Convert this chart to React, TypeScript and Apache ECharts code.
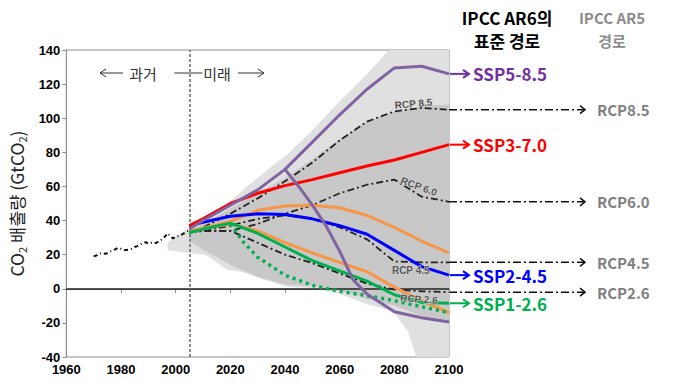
import React, { useEffect, useRef } from 'react';
import * as echarts from 'echarts';

// ---- data ----
const histYears = [1970,1971,1972,1973,1974,1975,1976,1977,1978,1979,1980,1981,1982,1983,1984,1985,1986,1987,1988,1989,1990,1991,1992,1993,1994,1995,1996,1997,1998,1999,2000,2001,2002,2003,2004,2005];
const histValues = [19,19.5,20.5,21,20.5,20.8,21.8,22.5,23.2,24,23.5,22.8,22.7,23,23.5,24.5,25,25.8,26.8,27.3,26.5,27,26.5,27,28,29,30.5,32.5,31,29.5,30.5,31,31.5,32.5,33.5,34.5];

const scenYears = [2005,2010,2020,2030,2040,2050,2060,2070,2080,2090,2100];
const ssp585 = [35,40,49,58,70,86,102,117,129.5,130.5,126];
const ssp370 = [37,41,50,56,60.5,64,68,72,75.5,80,84.5];
const ssp245 = [37,39,42.5,44,43.5,41,37,32,22.5,13,8];
const sspOrangeHigh = [34,35.5,39.5,46,48.5,49,47.5,43,36,28,21];
const sspOrangeLow = [33,35,38,34,27,21,15.5,10,1,-7,-14];
const ssp126 = [33,35,38.5,32.5,24.5,16.5,10.5,4.5,-3.5,-8,-8.5];

const ssp119Years = [2020,2025,2030,2040,2050,2060,2070,2080,2090,2100];
const ssp119 = [38,27,18.5,8,2,-1.5,-4,-7,-10.5,-14];

const osYears = [2040,2045,2050,2055,2060,2065,2070,2080,2090,2100];
const ssp534os = [70,60,49,37,22,5,-3,-13.5,-17,-19.5];

const rcp85 = [33,36,44,53,63,74,87,98,104,106,105];
const rcp60 = [33,34,34,38,44,49,56,61,64,54,51];
const rcp45 = [33,34,37,41,43,41,36,29,16,15.5,15.5];
const rcp26 = [33,34,34,27,20,15,9,3,-0.5,-1.5,-2];

const fanYears = [1997,2005,2011,2019,2024,2033,2041,2050,2060,2070,2078,2080,2085,2088,2090,2100];
const fanUpper = [27,36,41,50,57,69,79,93,110,126,140,140,140,140,140,140];
const fanLower = [22.6,21,20,11,10,5,1,0.5,-3,-9,-12.5,-14,-25,-40,-40,-40];

const coreYears = [2005,2010,2020,2030,2040,2050,2060,2070,2080,2090,2100];
const coreUpper = [34,38,47,56,65,76,88,98,104,107,108];
const coreLower = [28,23,14,7,2.5,1.5,-1,-6,-10,-16,-20];

const sspLabels = ['SSP5-8.5','SSP3-7.0','SSP2-4.5','SSP1-2.6'];
const sspLabelValues = [126,84.5,8,-8.5];
const sspLabelColors = ['#7030a0','#ff0000','#0000ff','#00b050'];

const rcpLabels = ['RCP8.5','RCP6.0','RCP4.5','RCP2.6'];
const rcpLabelValues = [105,51,15.5,-2];

const inPlotRcpLabels = ['RCP 8.5','RCP 6.0','RCP 4.5','RCP 2.6'];
const inPlotRcpPos = [[2087,108.5],[2089,60],[2086,11],[2089,-6]];
const inPlotRcpRot = [5,-20,0,-4];

const pair = (xs: number[], ys: number[]) => xs.map((x, i) => [x, ys[i]]);

const band = (xs: number[], lo: number[], hi: number[], color: string, z: number) => ({
  type: 'custom',
  coordinateSystem: 'cartesian2d',
  silent: true,
  z,
  data: [[xs[0], lo[0]]],
  renderItem: (_p: any, api: any) => {
    const pts: number[][] = [];
    xs.forEach((x, i) => pts.push(api.coord([x, hi[i]])));
    for (let i = xs.length - 1; i >= 0; i--) pts.push(api.coord([xs[i], lo[i]]));
    return { type: 'polygon', shape: { points: pts }, style: { fill: color } };
  },
});

const KR = '"Noto Sans CJK KR", sans-serif';

export default function App() {
  const ref = useRef<HTMLDivElement>(null);
  useEffect(() => {
    if (!ref.current) return;
    const chart = echarts.init(ref.current, null, { renderer: 'svg' });
    const solid = (name: string, xs: number[], ys: number[], color: string, z = 5, width = 3) => ({
      type: 'line', name, data: pair(xs, ys), showSymbol: false, symbol: 'none', z,
      lineStyle: { color, width, join: 'round' },
    });
    const dashdot = (name: string, ys: number[]) => ({
      type: 'line', name, data: pair(scenYears, ys), symbol: 'none', z: 4,
      lineStyle: { color: '#222', width: 1.8, type: [7, 3, 2, 3] },
    });
    chart.setOption({
      animation: false,
      backgroundColor: '#fff',
      grid: { left: 56, right: 231, top: 50, bottom: 32, show: true, borderColor: '#8c8c8c', borderWidth: 1 },
      xAxis: {
        type: 'value', min: 1960, max: 2100, interval: 20,
        axisLine: { show: true, lineStyle: { color: '#8c8c8c' } },
        axisTick: { show: true, length: 4, lineStyle: { color: '#8c8c8c' } },
        splitLine: { show: false },
        axisLabel: { color: '#000', fontFamily: '"Liberation Sans", Arial', fontWeight: 'bold', fontSize: 13, lineHeight: 12, margin: 6, formatter: (v: number) => String(v) },
      },
      yAxis: {
        type: 'value', min: -40, max: 140, interval: 20,
        axisLine: { show: true, lineStyle: { color: '#8c8c8c' } },
        axisTick: { show: true, length: 4, lineStyle: { color: '#8c8c8c' } },
        splitLine: { show: false },
        axisLabel: { color: '#000', fontFamily: '"Liberation Sans", Arial', fontWeight: 'bold', fontSize: 13, lineHeight: 12, margin: 6 },
        name: '{a|CO}{b|2}{a| 배출량 (GtCO}{b|2}{a|)}',
        nameLocation: 'middle', nameRotate: 90, nameGap: 30,
        nameTextStyle: {
          rich: {
            a: { fontFamily: KR, fontSize: 17.5, color: '#222', lineHeight: 22 },
            b: { fontFamily: KR, fontSize: 11, color: '#222', lineHeight: 22, verticalAlign: 'bottom' },
          },
        },
      },
      series: [
        band(fanYears, fanLower, fanUpper, '#e0e0e0', 1),
        band(coreYears, coreLower, coreUpper, '#c8c8c8', 2),
        {
          type: 'line', name: 'hist', data: pair(histYears, histValues), symbol: 'none', z: 4,
          lineStyle: { color: '#111', width: 2, type: [4, 3, 1, 3] },
          markLine: {
            silent: true, symbol: 'none', label: { show: false },
            data: [
              { yAxis: 0, lineStyle: { color: '#222', width: 1.5, type: 'solid' } },
              { xAxis: 2005, lineStyle: { color: '#666', width: 1.5, type: [3, 2] } },
            ],
          },
        },
        dashdot('RCP8.5', rcp85),
        dashdot('RCP6.0', rcp60),
        dashdot('RCP4.5', rcp45),
        dashdot('RCP2.6', rcp26),
        solid('SSP4-6.0', scenYears, sspOrangeHigh, '#f79646'),
        solid('SSP4-3.4', scenYears, sspOrangeLow, '#f79646'),
        {
          type: 'line', name: 'SSP1-1.9', data: pair(ssp119Years, ssp119), symbol: 'none', z: 5,
          lineStyle: { color: '#00b050', width: 3.5, type: [3, 4] },
        },
        solid('SSP1-2.6', scenYears, ssp126, '#00b050', 6),
        solid('SSP2-4.5', scenYears, ssp245, '#0000ff', 6),
        solid('SSP3-7.0', scenYears, ssp370, '#ff0000', 6),
        solid('SSP5-3.4-OS', osYears, ssp534os, '#8064a2', 7),
        solid('SSP5-8.5', scenYears, ssp585, '#8064a2', 7),
      ],
    });

    const px = (x: number, y: number) => chart.convertToPixel({ gridIndex: 0 }, [x, y]) as number[];
    const right = px(2100, 0)[0];
    const top = px(1960, 140)[1];
    const g: any[] = [];
    sspLabels.forEach((lab, i) => {
      const y = px(2100, sspLabelValues[i])[1];
      const c = sspLabelColors[i];
      g.push({ type: 'line', shape: { x1: right + 1, y1: y, x2: right + 20, y2: y }, style: { stroke: c, lineWidth: 2 } });
      g.push({ type: 'polyline', shape: { points: [[right + 14, y - 4], [right + 20, y], [right + 14, y + 4]] }, style: { stroke: c, lineWidth: 2, fill: 'none' } });
      g.push({ type: 'text', x: right + 24, y, style: { text: lab, fill: c, font: `bold 17px ${KR}`, verticalAlign: 'middle', align: 'left' } });
    });
    rcpLabels.forEach((lab, i) => {
      const y = px(2100, rcpLabelValues[i])[1];
      g.push({ type: 'line', shape: { x1: right, y1: y, x2: right + 136, y2: y }, style: { stroke: '#111', lineWidth: 1.5, lineDash: [8, 3, 2, 3] } });
      g.push({ type: 'polyline', shape: { points: [[right + 131, y - 4], [right + 136, y], [right + 131, y + 4]] }, style: { stroke: '#111', lineWidth: 1.5, fill: 'none' } });
      g.push({ type: 'text', x: right + 148, y, style: { text: lab, fill: '#7f7f7f', font: `bold 15px ${KR}`, verticalAlign: 'middle', align: 'left' } });
    });
    inPlotRcpLabels.forEach((lab, i) => {
      const p = px(inPlotRcpPos[i][0], inPlotRcpPos[i][1]);
      g.push({
        type: 'text', x: p[0], y: p[1], rotation: (inPlotRcpRot[i] * Math.PI) / 180, z: 20,
        style: { text: lab, fill: '#555', font: `bold 10px "Liberation Sans", Arial`, align: 'center', verticalAlign: 'middle', stroke: '#ddd', lineWidth: 1 },
      });
    });
    g.push({ type: 'text', x: 507, y: 17, style: { text: 'IPCC AR6의', fill: '#000', font: `bold 17px ${KR}`, align: 'center', verticalAlign: 'middle' } });
    g.push({ type: 'text', x: 507, y: 40, style: { text: '표준 경로', fill: '#000', font: `bold 17px ${KR}`, align: 'center', verticalAlign: 'middle' } });
    g.push({ type: 'text', x: 612, y: 17, style: { text: 'IPCC AR5', fill: '#8c8c8c', font: `bold 15px ${KR}`, align: 'center', verticalAlign: 'middle' } });
    g.push({ type: 'text', x: 612, y: 40, style: { text: '경로', fill: '#8c8c8c', font: `bold 15px ${KR}`, align: 'center', verticalAlign: 'middle' } });
    const ty = top + 23;
    const vx = px(2005, 0)[0];
    g.push({ type: 'line', shape: { x1: 100, y1: ty, x2: 123, y2: ty }, style: { stroke: '#333', lineWidth: 1 } });
    g.push({ type: 'polyline', shape: { points: [[106, ty - 4], [100, ty], [106, ty + 4]] }, style: { stroke: '#333', lineWidth: 1, fill: 'none' } });
    g.push({ type: 'text', x: 143, y: ty, style: { text: '과거', fill: '#333', font: `15px ${KR}`, align: 'center', verticalAlign: 'middle' } });
    g.push({ type: 'line', shape: { x1: vx - 15, y1: ty, x2: vx + 13, y2: ty }, style: { stroke: '#333', lineWidth: 1 } });
    g.push({ type: 'text', x: 217, y: ty, style: { text: '미래', fill: '#333', font: `15px ${KR}`, align: 'center', verticalAlign: 'middle' } });
    g.push({ type: 'line', shape: { x1: 238, y1: ty, x2: 264, y2: ty }, style: { stroke: '#333', lineWidth: 1 } });
    g.push({ type: 'polyline', shape: { points: [[258, ty - 4], [264, ty], [258, ty + 4]] }, style: { stroke: '#333', lineWidth: 1, fill: 'none' } });
    chart.setOption({ graphic: g });
    return () => chart.dispose();
  }, []);
  return <div ref={ref} style={{ position: 'fixed', left: 0, top: 0, width: 680, height: 389 }} />;
}
